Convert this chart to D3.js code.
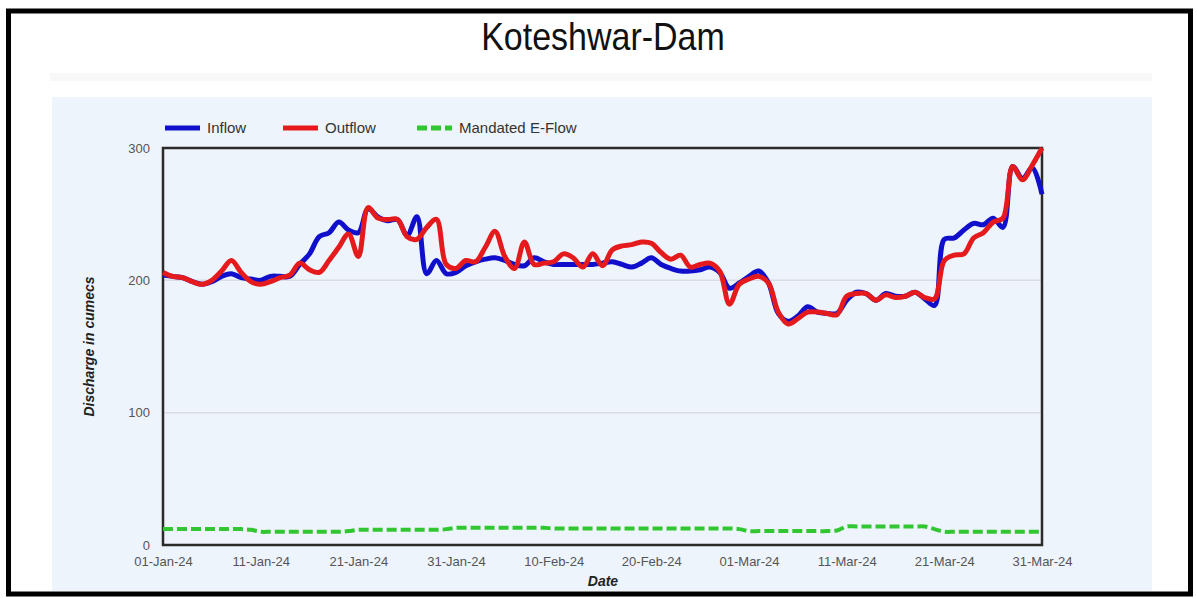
<!DOCTYPE html>
<html>
<head>
<meta charset="utf-8">
<script src="https://cdn.jsdelivr.net/npm/d3@7"></script>
<style>
  body { margin: 0; background: #fff; }
  svg { display: block; font-family: "Liberation Sans", Arial, sans-serif; }
</style>
</head>
<body>
<script>
// data (daily, 01-Jan-24 .. 31-Mar-24)
var startDate = "2024-01-01";
var tickLabels = ["01-Jan-24", "11-Jan-24", "21-Jan-24", "31-Jan-24", "10-Feb-24",
  "20-Feb-24", "01-Mar-24", "11-Mar-24", "21-Mar-24", "31-Mar-24"];
var yTicks = [0, 100, 200, 300];

var inflow = [204, 203, 202, 199, 197, 199, 203, 205, 202, 201,
  200, 203, 203, 203, 212, 220, 233, 236, 244, 238,
  236, 254, 248, 245, 246, 234, 248, 205, 215, 205,
  206, 211, 214, 216, 217, 215, 212, 211, 217, 214,
  212, 212, 212, 212, 212, 213, 214, 212, 210, 213,
  217, 212, 209, 207, 207, 208, 210, 206, 194, 198,
  203, 207, 198, 175, 169, 173, 180, 176, 175, 175,
  185, 191, 190, 185, 190, 188, 188, 191, 186, 181,
  231, 232, 238, 243, 242, 247, 240, 286, 277, 285, 265];

var outflow = [206, 203, 202, 199, 197, 200, 207, 215, 206, 199,
  197, 199, 202, 204, 213, 208, 206, 215, 225, 235,
  218, 255, 247, 246, 246, 233, 231, 240, 246, 212,
  209, 215, 214, 225, 237, 218, 209, 229, 212, 213,
  214, 220, 217, 210, 220, 211, 223, 226, 227, 229,
  228, 221, 216, 219, 210, 212, 213, 207, 182, 197,
  201, 203, 198, 176, 167, 171, 176, 176, 175, 174,
  188, 190, 190, 185, 189, 187, 188, 191, 187, 186,
  215, 219, 220, 232, 236, 244, 247, 286, 276, 287, 300];

var eflow = [12, 12, 12, 12, 12, 12, 12, 12, 12, 11.5,
  10, 10, 10, 10, 10, 10, 10, 10, 10, 10.5,
  11.5, 11.5, 11.5, 11.5, 11.5, 11.5, 11.5, 11.5, 11.5, 12,
  13, 13, 13, 13, 13, 13, 13, 13, 13, 13,
  12.5, 12.5, 12.5, 12.5, 12.5, 12.5, 12.5, 12.5, 12.5, 12.5,
  12.5, 12.5, 12.5, 12.5, 12.5, 12.5, 12.5, 12.5, 12.5, 12,
  10.5, 10.5, 10.5, 10.5, 10.5, 10.5, 10.5, 10.5, 10.5, 11,
  14, 14, 14, 14, 14, 14, 14, 14, 14, 12,
  10, 10, 10, 10, 10, 10, 10, 10, 10, 10, 10];

var seriesNames = ["Inflow", "Outflow", "Mandated E-Flow"];
var seriesColors = ["#1010cc", "#e41a1c", "#33c633"];

var W = 1197, H = 598;
var plot = { left: 163, right: 1042, top: 148, bottom: 545 };

var svg = d3.select("body").append("svg")
  .attr("width", W)
  .attr("height", H);

// outer frame
svg.append("rect")
  .attr("x", 8.5).attr("y", 11)
  .attr("width", 1182).attr("height", 583)
  .attr("fill", "#fff")
  .attr("stroke", "#000")
  .attr("stroke-width", 5);

// title is a bit condensed in the reference, so stretch it vertically
svg.append("text")
  .attr("transform", "translate(603,50) scale(1,1.15)")
  .attr("text-anchor", "middle")
  .style("font-size", "34px")
  .attr("fill", "#111")
  .text("Koteshwar-Dam");

// faint band under title + blue panel
svg.append("rect")
  .attr("x", 50).attr("y", 73).attr("width", 1102).attr("height", 8)
  .attr("fill", "#f8f8f9");
svg.append("rect")
  .attr("x", 52).attr("y", 97).attr("width", 1100).attr("height", 494)
  .attr("fill", "#eef4fb");

var parseDate = d3.timeParse("%Y-%m-%d");
var parseTick = d3.timeParse("%d-%b-%y");
var t0 = parseDate(startDate);

var dates = inflow.map(function (d, i) { return d3.timeDay.offset(t0, i); });

var x = d3.scaleTime()
  .domain([dates[0], dates[dates.length - 1]])
  .range([plot.left, plot.right]);
var y = d3.scaleLinear().domain([0, 300]).range([plot.bottom, plot.top]);

// gridlines
svg.append("g")
  .selectAll("line")
  .data(yTicks.filter(function (d) { return d > 0 && d < 300; }))
  .enter().append("line")
  .attr("x1", plot.left).attr("x2", plot.right)
  .attr("y1", function (d) { return y(d); })
  .attr("y2", function (d) { return y(d); })
  .attr("stroke", "#d9dde2")
  .attr("stroke-width", 1.5);

// plot border
svg.append("rect")
  .attr("x", plot.left).attr("y", plot.top)
  .attr("width", plot.right - plot.left)
  .attr("height", plot.bottom - plot.top)
  .attr("fill", "none")
  .attr("stroke", "#2b2b2b")
  .attr("stroke-width", 2.5);

// y axis
var yAxis = svg.append("g")
  .attr("transform", "translate(" + plot.left + ",0)")
  .call(d3.axisLeft(y).tickValues(yTicks).tickSize(0).tickPadding(13));
yAxis.select(".domain").remove();
yAxis.selectAll("text").style("font-size", "13px").attr("fill", "#555");

// x axis
var xAxis = svg.append("g")
  .attr("transform", "translate(0," + plot.bottom + ")")
  .call(d3.axisBottom(x)
    .tickValues(tickLabels.map(parseTick))
    .tickFormat(d3.timeFormat("%d-%b-%y"))
    .tickSize(0).tickPadding(12));
xAxis.select(".domain").remove();
xAxis.selectAll("text").style("font-size", "13px").attr("fill", "#555");

svg.append("text")
  .attr("x", 603).attr("y", 586)
  .attr("text-anchor", "middle")
  .style("font-size", "14px").style("font-weight", "bold").style("font-style", "italic")
  .attr("fill", "#222")
  .text("Date");

svg.append("text")
  .attr("transform", "translate(94," + ((plot.top + plot.bottom) / 2) + ") rotate(-90)")
  .attr("text-anchor", "middle")
  .style("font-size", "14px").style("font-weight", "bold").style("font-style", "italic")
  .attr("fill", "#222")
  .text("Discharge in cumecs");

// lines
var line = d3.line()
  .x(function (d, i) { return x(dates[i]); })
  .y(function (d) { return y(d); })
  .curve(d3.curveCatmullRom.alpha(0.5));

svg.append("path")
  .datum(eflow)
  .attr("d", line)
  .attr("fill", "none")
  .attr("stroke", seriesColors[2])
  .attr("stroke-width", 4)
  .attr("stroke-dasharray", "10,4");

svg.append("path")
  .datum(inflow)
  .attr("d", line)
  .attr("fill", "none")
  .attr("stroke", seriesColors[0])
  .attr("stroke-width", 5)
  .attr("stroke-linejoin", "round");

svg.append("path")
  .datum(outflow)
  .attr("d", line)
  .attr("fill", "none")
  .attr("stroke", seriesColors[1])
  .attr("stroke-width", 5)
  .attr("stroke-linejoin", "round");

// legend
var legendX = [165, 283, 417];
var legend = svg.append("g");
seriesNames.forEach(function (name, i) {
  var g = legend.append("g").attr("transform", "translate(" + legendX[i] + ",128)");
  g.append("line")
    .attr("x1", 0).attr("x2", 35)
    .attr("stroke", seriesColors[i])
    .attr("stroke-width", 5)
    .attr("stroke-dasharray", i === 2 ? "10,4" : null);
  g.append("text")
    .attr("x", 42).attr("y", 5)
    .style("font-size", "15px")
    .attr("fill", "#333")
    .text(name);
});
</script>
</body>
</html>
